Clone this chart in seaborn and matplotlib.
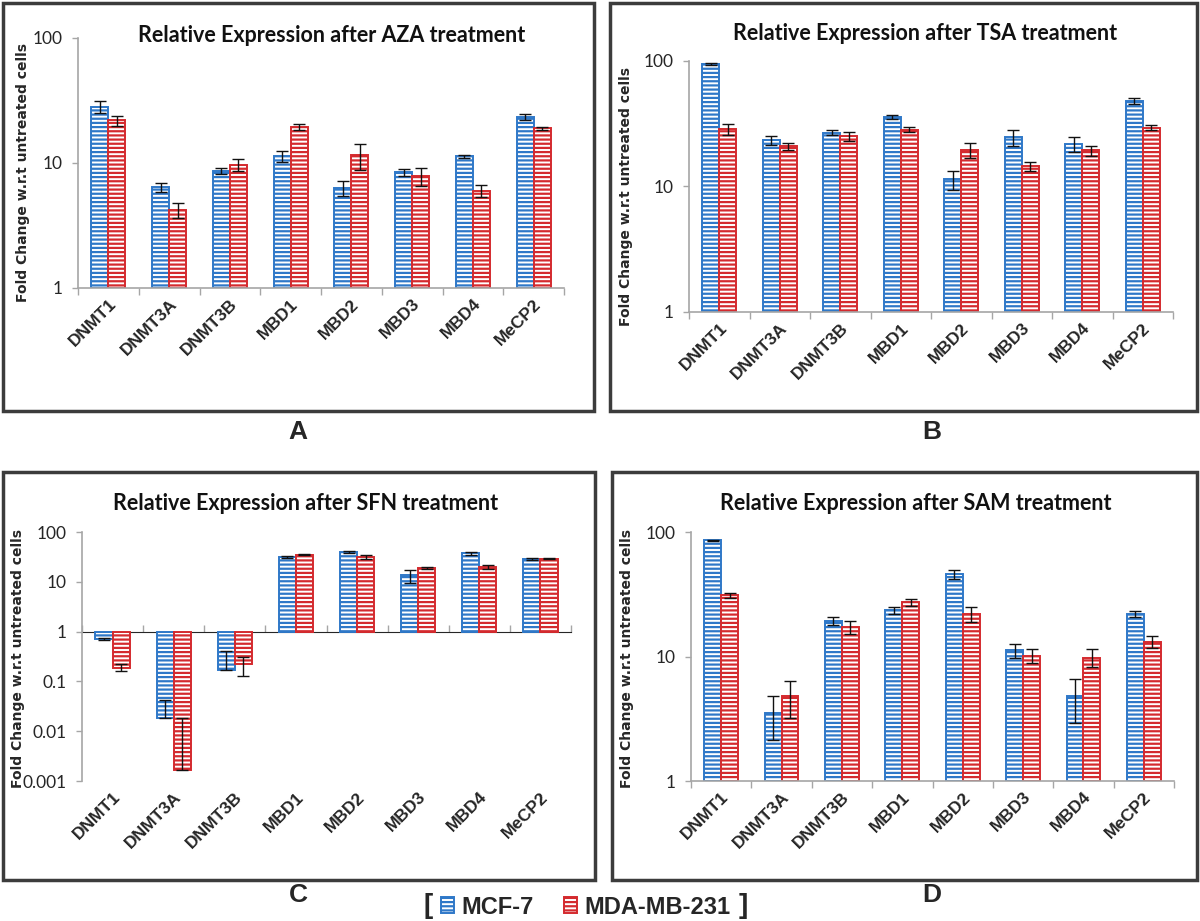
import numpy as np
import pandas as pd
import matplotlib
matplotlib.use('Agg')
import matplotlib.pyplot as plt
import seaborn as sns
from matplotlib.patches import Rectangle
from matplotlib.ticker import NullLocator

genes = ['DNMT1', 'DNMT3A', 'DNMT3B', 'MBD1', 'MBD2', 'MBD3', 'MBD4', 'MeCP2']
lines = ['MCF-7', 'MDA-MB-231']

# AZA
aza_mcf7 = [28.1, 6.4, 8.6, 11.3, 6.3, 8.4, 11.3, 23.4]
aza_mcf7_err = [3.0, 0.5, 0.5, 1.2, 0.9, 0.5, 0.3, 1.3]
aza_mda = [21.9, 4.2, 9.7, 19.4, 11.5, 7.8, 6.0, 18.9]
aza_mda_err = [2.0, 0.6, 1.0, 1.2, 2.7, 1.3, 0.7, 0.6]

# TSA
tsa_mcf7 = [94.6, 23.3, 26.9, 35.9, 11.4, 24.7, 21.8, 48.2]
tsa_mcf7_err = [2.0, 2.0, 1.2, 1.3, 2.0, 3.7, 3.0, 2.4]
tsa_mda = [28.7, 20.9, 25.1, 28.4, 19.6, 14.6, 19.4, 29.5]
tsa_mda_err = [2.8, 1.5, 1.9, 1.4, 2.6, 1.2, 1.8, 1.4]

# SFN
sfn_mcf7 = [0.72, 0.018, 0.167, 31.6, 39.2, 13.5, 37.4, 29.2]
sfn_mcf7_err = [0.03, 0.025, 0.25, 1.5, 1.5, 4.0, 3.0, 1.5]
sfn_mda = [0.19, 0.0017, 0.22, 34.6, 31.6, 19.0, 19.9, 29.2]
sfn_mda_err = [0.03, 0.0168, 0.09, 0.8, 3.5, 1.0, 1.5, 0.8]

# SAM
sam_mcf7 = [85.7, 3.5, 19.4, 23.5, 45.7, 11.2, 4.8, 21.9]
sam_mcf7_err = [1.0, 1.35, 1.5, 1.4, 3.6, 1.5, 1.85, 1.2]
sam_mda = [31.0, 4.8, 17.3, 27.3, 21.9, 10.1, 9.8, 13.1]
sam_mda_err = [1.6, 1.6, 2.0, 1.7, 3.1, 1.3, 1.6, 1.5]

colors = {'MCF-7': '#2f78c8', 'MDA-MB-231': '#d42a2e'}
axis_grey = '#a6a6a6'

sns.set_style('white')
plt.rcParams['font.family'] = ['Lato', 'DejaVu Sans']
plt.rcParams['hatch.linewidth'] = 1.6

W, H = 1200, 921
fig = plt.figure(figsize=(12, 9.21), dpi=100)


def px_rect(left, right, top, bottom):
    return [left / W, 1 - bottom / H, (right - left) / W, (bottom - top) / H]


def ftext(x, y, s, **kw):
    fig.text(x / W, 1 - y / H, s, **kw)


def draw_panel(rect, mcf7, mcf7_err, mda, mda_err, ylim, yticks, ylabels, cross_frac=None):
    ax = fig.add_axes(rect)
    df = pd.DataFrame({
        'gene': genes * 2,
        'line': [lines[0]] * 8 + [lines[1]] * 8,
        'value': mcf7 + mda,
    })
    sns.barplot(data=df, x='gene', y='value', hue='line', hue_order=lines,
                palette=colors, errorbar=None, width=0.56, gap=0,
                legend=False, ax=ax)
    ax.set_yscale('log')

    errs = [mcf7_err, mda_err]
    vals = [mcf7, mda]
    bar_conts = list(ax.containers)[:2]
    for i, cont in enumerate(bar_conts):
        col = colors[lines[i]]
        xs = []
        for p, v in zip(cont.patches, vals[i]):
            # bars grow from 1, like the category axis crossing at 1
            p.set_y(1)
            p.set_height(v - 1)
            p.set_facecolor('white')
            p.set_edgecolor(col)
            p.set_hatch('----')
            p.set_linewidth(1.4)
            xs.append(p.get_x() + p.get_width() / 2)
        v = np.array(vals[i])
        e = np.array(errs[i])
        lo = np.where(e < v, e, 0)
        ax.errorbar(xs, v, yerr=[lo, e], fmt='none', ecolor='#111111',
                    elinewidth=1, capsize=4, capthick=1, zorder=5)

    ax.set_xlim(-0.5, 7.5)
    ax.set_ylim(*ylim)
    ax.set_yticks(yticks)
    ax.set_yticklabels(ylabels)
    ax.yaxis.set_minor_locator(NullLocator())
    ax.set_xlabel('')
    ax.set_ylabel('')
    for s in ['top', 'right']:
        ax.spines[s].set_visible(False)
    for s in ['left', 'bottom']:
        ax.spines[s].set_color(axis_grey)
        ax.spines[s].set_linewidth(1.2)
    ax.tick_params(axis='y', which='major', length=4, width=1, color=axis_grey,
                   pad=7, labelsize=12.5, left=True)
    ax.tick_params(axis='x', which='major', length=0, pad=6)
    ax.set_xticks(range(8))
    ax.set_xticklabels(genes, rotation=45, ha='right', rotation_mode='anchor',
                       fontsize=12.5, fontweight='bold', family='Liberation Sans')

    if cross_frac is None:
        ax.set_xticks(np.arange(-0.5, 8, 1), minor=True)
        ax.tick_params(axis='x', which='minor', length=5, width=1, color=axis_grey,
                       bottom=True)
    else:
        ax.spines['bottom'].set_visible(False)
        sec = ax.secondary_xaxis(cross_frac)
        sec.set_xticks(np.arange(-0.5, 8, 1))
        sec.set_xticklabels([''] * 9)
        sec.tick_params(length=5, width=1, color=axis_grey, direction='out')
        sec.spines['bottom'].set_color(axis_grey)
        sec.spines['bottom'].set_linewidth(1.2)
    return ax


lin_ticks = [1, 10, 100]
lin_labels = ['1', '10', '100']

draw_panel(px_rect(78, 564, 38, 288), aza_mcf7, aza_mcf7_err, aza_mda, aza_mda_err,
           (1, 100), lin_ticks, lin_labels)
draw_panel(px_rect(689, 1173, 61, 312), tsa_mcf7, tsa_mcf7_err, tsa_mda, tsa_mda_err,
           (1, 100), lin_ticks, lin_labels)
draw_panel(px_rect(82, 571, 532, 781), sfn_mcf7, sfn_mcf7_err, sfn_mda, sfn_mda_err,
           (0.001, 100), [0.001, 0.01, 0.1, 1, 10, 100],
           ['0.001', '0.01', '0.1', '1', '10', '100'], cross_frac=0.6)
draw_panel(px_rect(691, 1174, 532, 781), sam_mcf7, sam_mcf7_err, sam_mda, sam_mda_err,
           (1, 100), lin_ticks, lin_labels)

# titles
title_kw = dict(ha='center', va='center', fontsize=15.5, fontweight='bold', color='#111111')
ftext(332, 35, 'Relative Expression after AZA treatment', **title_kw)
ftext(925, 33, 'Relative Expression after TSA treatment', **title_kw)
ftext(306, 503, 'Relative Expression after SFN treatment', **title_kw)
ftext(916, 503, 'Relative Expression after SAM treatment', **title_kw)

# y labels
ylab = 'Fold Change w.r.t untreated cells'
ylab_kw = dict(ha='center', va='center', rotation=90, fontsize=10, fontweight='bold',
               family='DejaVu Sans')
ftext(23, 172, ylab, **ylab_kw)
ftext(626, 197, ylab, **ylab_kw)
ftext(18, 658, ylab, **ylab_kw)
ftext(627, 658, ylab, **ylab_kw)

# panel frames
for l, r, t, b in [(3, 594, 3, 411), (610, 1197, 3, 411), (3, 595, 472, 880), (612, 1197, 472, 880)]:
    fig.patches.append(Rectangle((l / W, 1 - b / H), (r - l) / W, (b - t) / H,
                                 transform=fig.transFigure, fill=False,
                                 edgecolor='#3c3c3c', linewidth=2.5))

# panel letters
let_kw = dict(ha='center', va='center', fontsize=19, fontweight='bold', family='Liberation Sans')
ftext(298, 432, 'A', **let_kw)
ftext(932, 432, 'B', **let_kw)
ftext(298, 895, 'C', **let_kw)
ftext(932, 895, 'D', **let_kw)

# legend
handles = [Rectangle((0, 0), 1, 1, facecolor='white', edgecolor=colors[n], hatch='----',
                     linewidth=1.4) for n in lines]
leg = fig.legend(handles, lines, loc='center', bbox_to_anchor=(586 / W, 1 - 907 / H),
                 ncol=2, frameon=False, handlelength=0.55, handleheight=0.65,
                 handletextpad=0.3, columnspacing=1.3,
                 prop={'family': 'Liberation Sans', 'weight': 'bold', 'size': 17})
ftext(428, 906, '[', ha='center', va='center', fontsize=20, fontweight='bold',
      family='Liberation Sans')
ftext(743, 906, ']', ha='center', va='center', fontsize=20, fontweight='bold',
      family='Liberation Sans')

fig.savefig('out.png', dpi=100, facecolor='white')
